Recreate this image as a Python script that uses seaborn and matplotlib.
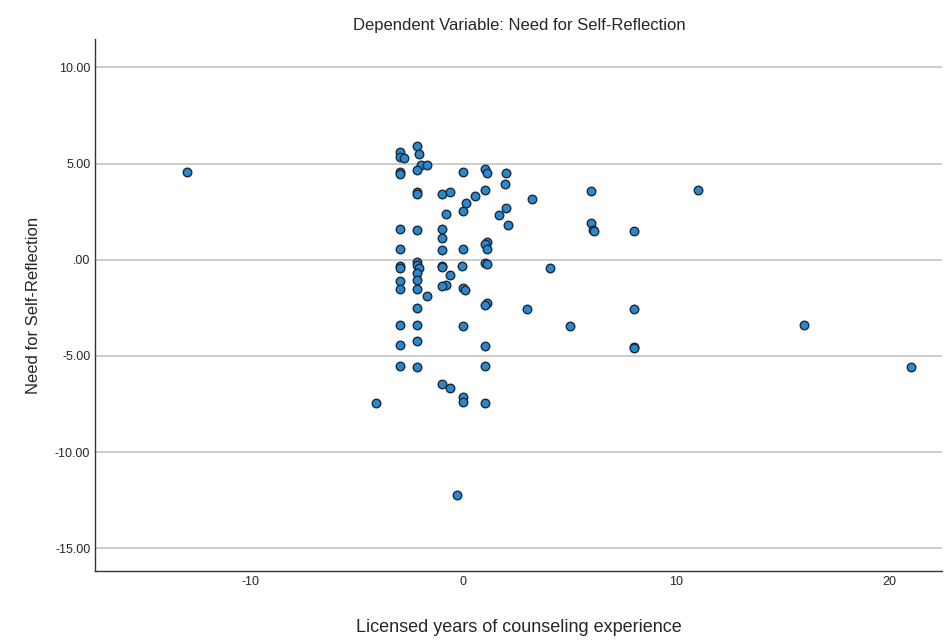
import matplotlib
matplotlib.use("Agg")
import matplotlib.pyplot as plt
import seaborn as sns
import pandas as pd

# partial residuals (x, y)
x_vals = [-13.0, -4.1,
          -3.0, -3.0, -2.8, -3.0, -3.0, -3.0, -3.0, -3.0, -3.0, -3.0, -3.0, -3.0, -3.0, -3.0,
          -2.2, -2.1, -2.0, -2.2, -2.2, -2.2, -2.2, -2.2, -2.2, -2.1, -2.2, -2.2, -2.2, -2.2, -2.2, -2.2, -2.2,
          -1.7, -1.7,
          -1.0, -0.8, -1.0, -1.0, -1.0, -1.0, -1.0, -0.8, -1.0, -1.0,
          -0.65, -0.65, -0.65,
          0.0, 0.1, 0.0, 0.0, -0.05, 0.0, 0.05, 0.0, 0.0, 0.0, -0.3,
          0.55,
          1.0, 1.1, 1.0, 1.1, 1.0, 1.1, 1.0, 1.1, 1.1, 1.0, 1.0, 1.0, 1.0,
          1.65,
          2.0, 1.95, 2.0, 2.1,
          3.0, 3.2, 4.05, 5.0,
          6.0, 6.0, 6.1, 6.15,
          8.0, 8.0, 8.0, 8.0,
          11.0, 16.0, 21.0]
y_vals = [4.55, -7.45,
          5.6, 5.35, 5.3, 4.55, 4.45, 1.6, 0.55, -0.3, -0.45, -1.1, -1.5, -3.4, -4.45, -5.5,
          5.9, 5.5, 4.9, 4.65, 3.5, 3.4, 1.55, -0.1, -0.25, -0.45, -0.7, -1.05, -1.5, -2.5, -3.4, -4.25, -5.6,
          4.9, -1.9,
          3.4, 2.4, 1.6, 1.15, 0.5, -0.3, -0.4, -1.3, -1.35, -6.45,
          3.5, -0.8, -6.65,
          4.55, 2.95, 2.55, 0.55, -0.3, -1.45, -1.55, -3.45, -7.15, -7.4, -12.25,
          3.3,
          4.7, 4.5, 3.6, 0.9, 0.8, 0.55, -0.15, -0.2, -2.25, -2.35, -4.5, -5.5, -7.45,
          2.35,
          4.5, 3.95, 2.7, 1.8,
          -2.55, 3.15, -0.45, -3.45,
          3.55, 1.9, 1.55, 1.5,
          1.5, -2.55, -4.55, -4.6,
          3.6, -3.4, -5.55]

df = pd.DataFrame({"x": x_vals, "y": y_vals})

sns.set_style("white")
plt.rcParams['font.family'] = ['Arial', 'Liberation Sans', 'DejaVu Sans']
plt.rcParams['axes.unicode_minus'] = False

fig, ax = plt.subplots(figsize=(9.52, 6.42), dpi=100)
for v in [10, 5, 0, -5, -10, -15]:
    ax.axhline(v, color="#c8c8c8", lw=1.3, zorder=0)

sns.scatterplot(data=df, x="x", y="y", ax=ax, s=38, color="#2a88cf",
                edgecolor="#1a2a3a", linewidth=1.0, zorder=3)

ax.set_xlim(-17.3, 22.5)
ax.set_ylim(-16.2, 11.5)
ax.set_xticks([-10, 0, 10, 20])
ax.set_yticks([10, 5, 0, -5, -10, -15])
ax.set_yticklabels(["10.00", "5.00", ".00", "-5.00", "-10.00", "-15.00"])
ax.tick_params(labelsize=9, length=0)
for side in ["top", "right"]:
    ax.spines[side].set_visible(False)
for side in ["left", "bottom"]:
    ax.spines[side].set_color("#333333")
    ax.spines[side].set_linewidth(1.0)

ax.set_title("Dependent Variable: Need for Self-Reflection", fontsize=12, pad=6)
ax.set_xlabel("Licensed years of counseling experience", fontsize=13, labelpad=22)
ax.set_ylabel("Need for Self-Reflection", fontsize=12, labelpad=10)

plt.subplots_adjust(left=0.1, right=0.99, top=0.94, bottom=0.11)
plt.savefig("out.png", dpi=100)
